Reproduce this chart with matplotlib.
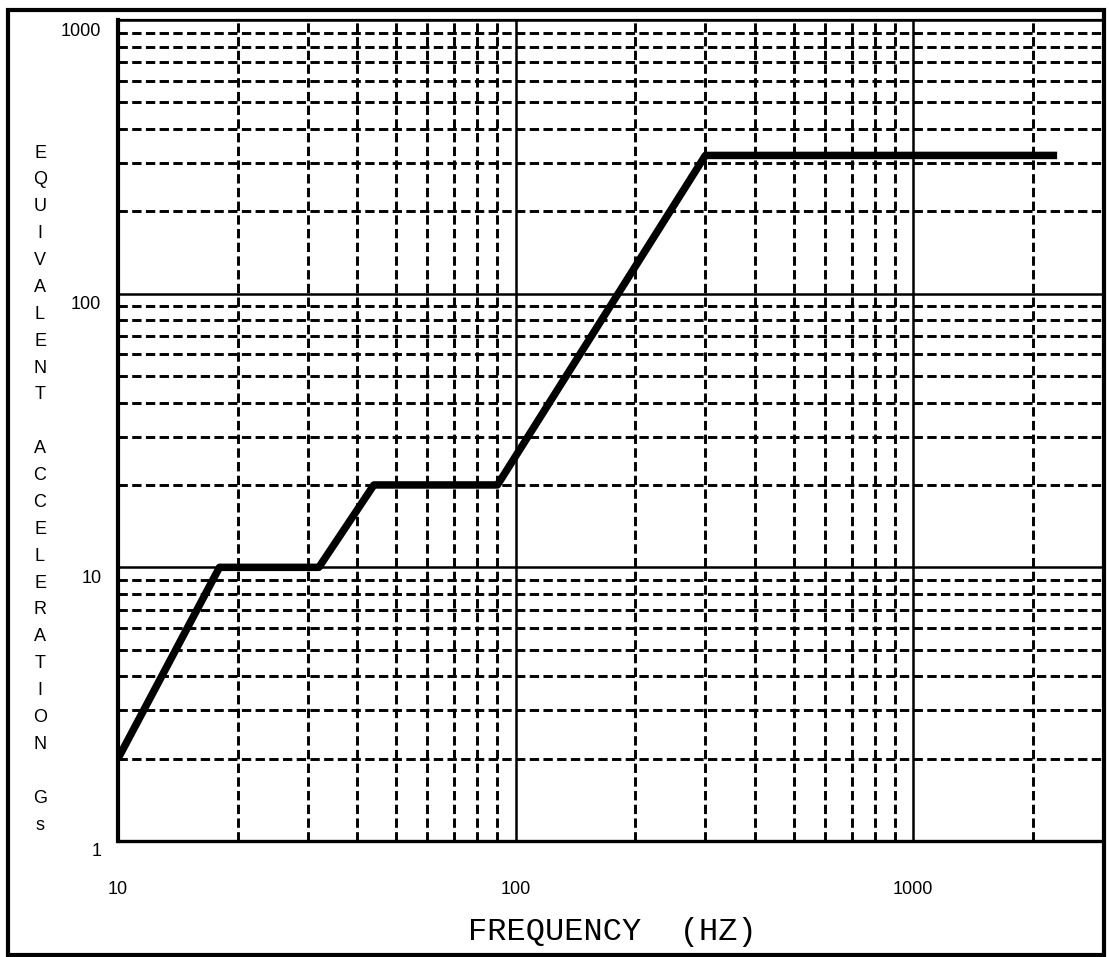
import matplotlib.pyplot as plt
import matplotlib.transforms as mtransforms
from matplotlib.patches import Rectangle
from matplotlib.ticker import FixedLocator, LogLocator, NullFormatter

# shock response spectrum
freq_hz = [10, 18, 32, 44, 90, 300, 2300]
accel_g = [2, 10, 10, 20, 20, 320, 320]

x_ticks = [10, 100, 1000]
x_labels = ['10', '100', '1000']
y_ticks = [1, 10, 100, 1000]
y_labels = ['1', '10', '100', '1000']

ylabel_words = ['EQUIVALENT', 'ACCELERATION', 'Gs']
xlabel = 'FREQUENCY  (HZ)'

W, H = 1109, 957
fig = plt.figure(figsize=(W / 100, H / 100), dpi=100)
ax = fig.add_axes([118 / W, 1 - 841 / H, (1103 - 118) / W, (841 - 20) / H])

ax.set_xscale('log')
ax.set_yscale('log')
ax.set_xlim(10, 3000)
ax.set_ylim(1, 1000)

# solid decade lines, dashed in-between lines
ax.xaxis.set_major_locator(FixedLocator(x_ticks))
ax.yaxis.set_major_locator(FixedLocator(y_ticks))
ax.xaxis.set_minor_locator(LogLocator(base=10, subs=range(2, 10)))
ax.yaxis.set_minor_locator(LogLocator(base=10, subs=range(2, 10)))
ax.xaxis.set_minor_formatter(NullFormatter())
ax.yaxis.set_minor_formatter(NullFormatter())
ax.set_xticklabels(x_labels, fontfamily='Liberation Sans', fontsize=13)
ax.set_yticklabels(y_labels, fontfamily='Liberation Sans', fontsize=13)
ax.tick_params(which='both', length=0)
ax.tick_params(axis='x', pad=29)
ax.tick_params(axis='y', pad=12)

# y numbers sit a little below their lines in the original
shift = mtransforms.ScaledTranslation(0, -9 / 100, fig.dpi_scale_trans)
for lab in ax.get_yticklabels():
    lab.set_transform(lab.get_transform() + shift)

ax.grid(which='major', color='black', linestyle='-', linewidth=1.8)
ax.grid(which='minor', color='black', linestyle=(0, (3.2, 1.5)), linewidth=2.1)
ax.set_axisbelow(True)

ax.plot(freq_hz, accel_g, color='black', linewidth=5.4,
        solid_capstyle='butt', solid_joinstyle='round', zorder=5)

for side, lw in [('left', 3.0), ('bottom', 2.4), ('top', 1.6), ('right', 2.2)]:
    ax.spines[side].set_linewidth(lw)
    ax.spines[side].set_color('black')

# stacked vertical y label
lines = []
for i, word in enumerate(ylabel_words):
    if i > 0:
        lines.append('')
    lines.extend(list(word))
fig.text(40 / W, 1 - 489 / H, '\n'.join(lines), ha='center', va='center',
         fontfamily='Liberation Sans', fontsize=13, linespacing=1.76,
         multialignment='center')

fig.text(612 / W, 1 - 932 / H, xlabel, ha='center', va='center',
         fontfamily='Liberation Mono', fontsize=23)

# outer frame of the page
fig.patches.append(Rectangle((8 / W, 1 - 955 / H), (1104 - 8) / W, (955 - 10) / H,
                             transform=fig.transFigure, fill=False,
                             edgecolor='black', linewidth=3.0))

fig.savefig('out.png', dpi=100)
